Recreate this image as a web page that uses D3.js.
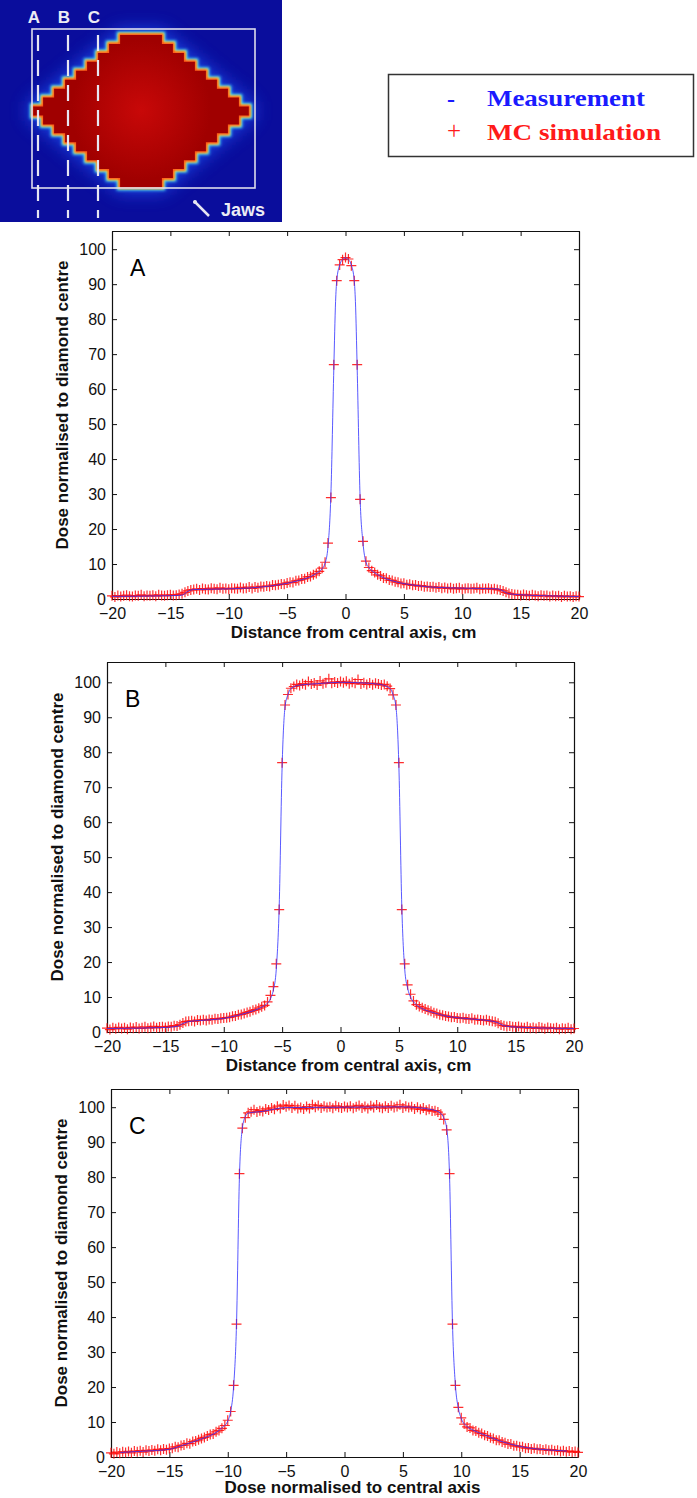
<!DOCTYPE html>
<html>
<head>
<meta charset="utf-8">
<script src="https://cdn.jsdelivr.net/npm/d3@7"></script>
<style>
  body { margin: 0; background: #fff; }
  svg { display: block; }
</style>
</head>
<body>
<script>
// ---- data ----
const xTicks = [-20, -15, -10, -5, 0, 5, 10, 15, 20]
const yTicks = [0, 10, 20, 30, 40, 50, 60, 70, 80, 90, 100]

// MC simulation scored every 2.5 mm from -20 to 20 cm
const mcX = d3.range(-20, 20.001, 0.25)

const mcA = [
  0.9, 0.6, 1.0, 0.7, 0.9, 1.1, 0.8, 0.7, 1.0, 0.9, 1.2, 0.8, 1.0, 0.9, 1.1, 0.8, 1.2, 1.0, 0.9, 1.1, 1.2,
  1.0, 1.1, 1.3, 1.5, 1.9, 2.3, 2.6, 2.7,
  2.9, 2.6, 3.0, 2.8, 2.7, 3.1, 2.9, 2.8, 3.2, 2.9, 3.0, 2.8, 3.1, 3.0, 2.9, 3.3, 3.0, 3.1, 3.4, 3.0,
  3.4, 3.2, 3.6, 3.5, 3.7, 3.6, 4.0, 3.9, 4.1, 4.3, 4.2, 4.6, 4.8, 4.7, 5.2, 5.3, 5.7, 5.8, 6.3, 6.4, 6.9, 7.3, 7.9,
  8.8, 10.5, 16, 29, 67, 91, 95.5, 97, 97.6, 97.2, 95.3, 91, 67, 28.5, 16.5, 10.8, 9.0,
  8.1, 7.6, 6.9, 6.6, 6.0, 5.9, 5.4, 5.3, 4.9, 4.8, 4.4, 4.5, 4.1, 4.2, 3.9, 4.0, 3.7, 3.8, 3.5, 3.6, 3.4, 3.5, 3.2, 3.4,
  3.1, 3.3, 3.0, 3.2, 2.9, 3.1, 3.2, 2.8, 3.0, 3.1, 2.9, 3.0, 3.2, 2.8, 3.0, 2.9, 3.1, 2.8, 2.9, 2.7,
  2.6, 2.3, 1.9, 1.6, 1.4, 1.3,
  1.2, 1.0, 1.3, 1.1, 0.9, 1.2, 1.0, 0.8, 1.1, 0.9, 1.0, 0.7, 1.0, 0.8, 0.9, 0.6, 0.9, 0.7, 0.8, 0.6, 0.8, 0.7
]
const mcB = [
  1.1, 0.7, 1.2, 0.9, 1.3, 1.0, 1.2, 0.8, 1.3, 1.1, 1.4, 1.0, 1.2, 1.5, 1.1, 1.3, 1.6, 1.2, 1.4, 1.5, 1.3,
  1.6, 1.5, 1.8, 1.7, 2.1, 2.6, 3.0, 3.1,
  3.2, 3.0, 3.4, 3.3, 3.5, 3.3, 3.6, 3.5, 3.8, 3.7, 3.9, 4.0, 4.1, 4.2, 4.5, 4.6, 4.9, 5.0, 5.3, 5.6,
  5.8, 6.2, 6.4, 6.8, 7.2, 7.6,
  8.6, 10.5, 13, 19.5, 35, 77, 93.5, 96.5, 98.3,
  98.8, 99.4, 99.1, 99.6, 99.3, 100.2, 99.5, 99.8, 99.2, 100.4, 99.6, 99.9, 101.0, 99.7, 100.1, 99.8, 100.2,
  99.9, 100.3, 99.6, 100.0, 99.7, 100.8, 99.5, 99.9, 99.4, 99.8, 99.3, 99.7, 99.5, 99.2, 99.4, 98.9,
  98.2, 96.4, 93.5, 77, 35, 19.5, 13.5, 10.8, 8.9,
  7.8, 7.3, 6.9, 6.6, 6.2, 5.9,
  5.5, 5.3, 4.9, 4.8, 4.6, 4.4, 4.2, 4.3, 4.0, 3.9, 4.1, 3.8, 3.7, 3.9, 3.5, 3.6, 3.4, 3.3, 3.5, 3.2,
  3.1, 2.9, 2.5, 2.0, 1.8, 1.6, 1.7, 1.5,
  1.4, 1.6, 1.3, 1.2, 1.5, 1.1, 1.3, 1.0, 1.4, 1.2, 0.9, 1.3, 1.1, 1.0, 1.2, 0.8, 1.1, 0.9, 1.2, 0.8, 1.0
]
const mcC = [
  1.2, 0.9, 1.4, 1.1, 1.5, 1.3, 1.6, 1.2, 1.7, 1.5, 1.8, 1.4, 1.9, 1.7, 2.0, 1.8, 2.2, 1.9, 2.3, 2.1, 2.4,
  2.5, 2.9, 2.8, 3.3, 3.4, 3.9, 3.8, 4.4, 4.6, 4.9, 5.3, 5.6, 6.0, 6.4, 6.6, 7.2, 7.6,
  8.2, 9.0, 10.5, 13, 20.5, 38, 81, 94, 97, 98.4,
  98.7, 99.3, 98.6, 99.0, 98.8, 99.5, 99.2, 99.8, 99.4, 100.3, 99.6, 100.6, 100.1, 100.5, 99.8, 100.4, 99.6,
  99.9, 99.5, 100.2, 99.6, 100.7, 100.0, 100.5, 99.8, 100.3, 99.9, 100.1, 99.7, 100.4, 100.0, 99.8, 100.2,
  99.9, 100.3, 99.7, 100.1, 100.5, 99.8, 100.2, 99.6, 100.4, 99.9, 100.6, 100.0, 99.7, 100.3, 99.8, 100.4,
  99.9, 100.2, 100.7, 99.8, 100.3, 99.9, 100.1, 99.5, 100.0, 99.4, 99.8, 99.1, 99.4, 98.9, 99.0, 98.6,
  98.0, 96.5, 93.5, 81, 38, 20.5, 14.2, 11.2, 9.4, 8.6,
  8.3, 7.6, 7.4, 6.9, 6.7, 6.2, 6.0, 5.5, 5.3, 4.8,
  4.8, 4.3, 4.1, 3.7, 3.7, 3.2, 3.2, 2.9, 2.9, 2.5, 2.6, 2.3,
  2.5, 2.2, 2.3, 2.0, 2.2, 1.9, 2.1, 1.8, 1.9, 1.6, 1.8, 1.5, 1.7, 1.4, 1.6, 1.3
]

// measured profiles (positions in cm, dose in %)
const measAx = [-20, -15, -14, -13.5, -13, -10, -8, -7, -6, -5, -4, -3, -2.5, -2, -1.75, -1.5, -1.25, -1, -0.85, -0.75,
  -0.5, -0.25, 0, 0.25, 0.5, 0.75, 0.85, 1, 1.25, 1.5, 1.75, 2, 2.5, 3, 4, 5, 6, 7, 8, 10, 13, 13.5, 14, 15, 17.5, 20]
const measAy = [0.75, 0.95, 1.1, 2.2, 2.7, 2.9, 3.2, 3.5, 3.9, 4.5, 5.3, 6.4, 7.3, 8.7, 10.2, 15, 30, 66, 85, 91,
  95.5, 97, 97.5, 97, 95.5, 91, 85, 66, 29, 16, 10.5, 9, 7.5, 6.5, 5.2, 4.4, 3.9, 3.5, 3.3, 3.1, 2.9, 2.3, 1.5, 1.2, 0.9, 0.7]

const measBx = [-20, -15, -14, -13.5, -13, -12, -10, -9, -8, -7, -6.5, -6, -5.75, -5.5, -5.25, -5, -4.75, -4.5, -4.25, -3.5,
  -2, 0, 2, 3.5, 4.25, 4.5, 4.75, 5, 5.25, 5.5, 5.75, 6, 6.5, 7, 8, 9, 10, 12, 13, 13.5, 14, 15, 20]
const measBy = [1.0, 1.3, 1.6, 2.4, 3.0, 3.3, 3.9, 4.6, 5.5, 6.7, 7.6, 9.5, 12, 18, 36, 76, 93, 96.5, 98.2, 99.2,
  99.6, 100, 99.8, 99.3, 98.2, 96.5, 93, 76, 36, 18, 12.5, 10, 7.8, 6.7, 5.5, 4.6, 4.1, 3.5, 3.1, 2.6, 1.8, 1.4, 1.0]

const measCx = [-19.2, -17, -15, -14, -13, -12, -11, -10.5, -10, -9.75, -9.5, -9.25, -9, -8.75, -8.5, -8.25, -7, -5, 0, 5,
  7.5, 8.25, 8.5, 8.75, 9, 9.25, 9.5, 9.75, 10, 10.5, 11, 12, 13.3, 14.8, 16.2, 17.6, 19.05]
const measCy = [1.3, 1.7, 2.2, 3.2, 4.3, 5.5, 7.0, 8.3, 10.3, 13, 20, 38, 80, 94, 97.3, 98.3, 98.8, 99.9, 100, 100.1,
  99.3, 98.2, 97, 94, 80, 38, 20.5, 14, 11, 8.7, 7.7, 6.3, 4.6, 3.2, 2.4, 2.0, 1.7]

// MLC leaf half-openings (cm) for the diamond field in the inset
const leafHalfWidth = [3.8, 5.8, 7.8, 9.8, 11.8, 13.8, 15.8, 17.8, 19.6, 17.8, 15.8, 13.8, 11.8, 9.8, 7.8, 5.8, 3.8]
const profileNames = ['A', 'B', 'C']

// ---- page ----
const width = 697
const height = 1498
const sans = 'Liberation Sans, Arial, sans-serif'
const serif = 'Liberation Serif, Times New Roman, serif'

const svg = d3.select('body')
  .append('svg')
  .attr('width', width)
  .attr('height', height)

const defs = svg.append('defs')
function blur(id, sd) {
  defs.append('filter').attr('id', id)
    .attr('x', '-30%').attr('y', '-30%').attr('width', '160%').attr('height', '160%')
    .append('feGaussianBlur').attr('stdDeviation', sd)
}
blur('b8', 9)
blur('b2', 1.4)
blur('b1', 0.9)
const rg = defs.append('radialGradient').attr('id', 'core')
  .attr('gradientUnits', 'userSpaceOnUse').attr('cx', 141).attr('cy', 110).attr('r', 70)
rg.append('stop').attr('offset', 0).attr('stop-color', '#c80808')
rg.append('stop').attr('offset', 1).attr('stop-color', '#a00000')

// ---- inset: dose map of the diamond field ----
const img = svg.append('g')
img.append('rect').attr('width', 282).attr('height', 222).attr('fill', '#0a0d9c')

const imgX = d3.scaleLinear().domain([-20, 20]).range([31, 251])
const rowY = d3.scaleBand().domain(d3.range(leafHalfWidth.length)).range([35, 187])
const right = leafHalfWidth.flatMap((hw, i) => [[imgX(hw), rowY(i)], [imgX(hw), rowY(i) + rowY.bandwidth()]])
const left = leafHalfWidth.map((hw, i) => [[imgX(-hw), rowY(i) + rowY.bandwidth()], [imgX(-hw), rowY(i)]]).reverse().flat()
const diamond = d3.line()(right.concat(left)) + 'Z'

img.append('path').attr('d', diamond).attr('fill', '#2458ff').attr('stroke', '#2458ff')
  .attr('stroke-width', 10).attr('opacity', 0.75).attr('filter', 'url(#b8)')
img.append('path').attr('d', diamond).attr('fill', 'none').attr('stroke', '#3cd8ff')
  .attr('stroke-width', 7).attr('filter', 'url(#b2)')
img.append('path').attr('d', diamond).attr('fill', 'none').attr('stroke', '#ffe030')
  .attr('stroke-width', 4.2).attr('filter', 'url(#b1)')
img.append('path').attr('d', diamond).attr('fill', 'none').attr('stroke', '#ff3a10')
  .attr('stroke-width', 2.4).attr('filter', 'url(#b1)')
img.append('path').attr('d', diamond).attr('fill', 'url(#core)')

// jaws
img.append('rect').attr('x', 32).attr('y', 29).attr('width', 223).attr('height', 159)
  .attr('fill', 'none').attr('stroke', '#dcdcec').attr('stroke-width', 1.6)

// profile lines
const profX = d3.scalePoint().domain(profileNames).range([38, 98])
img.selectAll('line.prof').data(profileNames).join('line')
  .attr('class', 'prof')
  .attr('x1', d => profX(d)).attr('x2', d => profX(d))
  .attr('y1', 35).attr('y2', 218)
  .attr('stroke', '#e6e6f2').attr('stroke-width', 2.2).attr('stroke-dasharray', '16,9')
img.selectAll('text.prof').data(profileNames).join('text')
  .attr('class', 'prof')
  .attr('x', d => profX(d) - 4).attr('y', 23)
  .attr('text-anchor', 'middle')
  .attr('font-family', sans).attr('font-weight', 'bold').attr('font-size', 17)
  .attr('fill', '#ececf4')
  .text(d => d)

img.append('line').attr('x1', 194).attr('y1', 201).attr('x2', 209).attr('y2', 216)
  .attr('stroke', '#e6e6f2').attr('stroke-width', 2.5)
img.append('circle').attr('cx', 195).attr('cy', 202).attr('r', 2).attr('fill', '#e6e6f2')
img.append('text').attr('x', 221).attr('y', 216)
  .attr('font-family', sans).attr('font-weight', 'bold').attr('font-size', 18)
  .attr('fill', '#ececf4').text('Jaws')

// ---- legend ----
const leg = svg.append('g')
leg.append('rect').attr('x', 388.5).attr('y', 74.5).attr('width', 305).attr('height', 82)
  .attr('fill', '#fff').attr('stroke', '#333').attr('stroke-width', 1.5)
leg.append('text').attr('x', 447).attr('y', 107).attr('font-family', serif).attr('font-size', 24)
  .attr('font-weight', 'bold').attr('fill', '#1a1aff').text('-')
leg.append('text').attr('x', 487).attr('y', 106).attr('font-family', serif).attr('font-size', 23)
  .attr('font-weight', 'bold').attr('textLength', 158).attr('lengthAdjust', 'spacingAndGlyphs')
  .attr('fill', '#1a1aff').text('Measurement')
leg.append('text').attr('x', 447).attr('y', 139).attr('font-family', serif).attr('font-size', 25)
  .attr('fill', '#ff1a1a').text('+')
leg.append('text').attr('x', 487).attr('y', 139.5).attr('font-family', serif).attr('font-size', 23)
  .attr('font-weight', 'bold').attr('textLength', 174).attr('lengthAdjust', 'spacingAndGlyphs')
  .attr('fill', '#ff1a1a').text('MC simulation')

// ---- profile panels ----
const panels = [
  {name: 'A', mc: mcA, mx: measAx, my: measAy, left: 112, right: 579, top: 231, bottom: 599, yMax: 105.2,
   xTitle: 'Distance from central axis, cm', titleDy: 39},
  {name: 'B', mc: mcB, mx: measBx, my: measBy, left: 107, right: 574, top: 662, bottom: 1032, yMax: 105.8,
   xTitle: 'Distance from central axis, cm', titleDy: 39},
  {name: 'C', mc: mcC, mx: measCx, my: measCy, left: 111, right: 578, top: 1089, bottom: 1457, yMax: 105.2,
   xTitle: 'Dose normalised to central axis', titleDy: 36}
]

const cross = 'M-5,0H5M0,-5V5'

panels.forEach(p => {
  if (p.mc.length !== mcX.length) throw new Error(p.name + ' mc length ' + p.mc.length)
  if (p.mx.length !== p.my.length) throw new Error(p.name + ' meas length')

  const x = d3.scaleLinear().domain([-20, 20]).range([p.left, p.right])
  const y = d3.scaleLinear().domain([0, p.yMax]).range([p.bottom, p.top])
  const g = svg.append('g')

  const styleAxis = a => a.attr('font-size', 16).attr('font-family', sans).attr('color', '#111')

  g.append('g').attr('transform', `translate(0,${p.bottom})`)
    .call(d3.axisBottom(x).tickValues(xTicks).tickSizeInner(-5).tickSizeOuter(0).tickPadding(9))
    .call(styleAxis)
  g.append('g').attr('transform', `translate(0,${p.top})`)
    .call(d3.axisTop(x).tickValues(xTicks).tickSizeInner(-5).tickSizeOuter(0).tickFormat(''))
    .call(styleAxis)
  g.append('g').attr('transform', `translate(${p.left},0)`)
    .call(d3.axisLeft(y).tickValues(yTicks).tickSizeInner(-5).tickSizeOuter(0).tickPadding(6))
    .call(styleAxis)
  g.append('g').attr('transform', `translate(${p.right},0)`)
    .call(d3.axisRight(y).tickValues(yTicks).tickSizeInner(-5).tickSizeOuter(0).tickFormat(''))
    .call(styleAxis)
  g.selectAll('.domain').attr('stroke-width', 1.2)

  // MC markers
  const pts = d3.zip(mcX, p.mc)
  g.append('g').selectAll('path').data(pts).join('path')
    .attr('d', cross)
    .attr('transform', d => `translate(${x(d[0])},${y(d[1])})`)
    .attr('fill', 'none').attr('stroke', '#ff0808').attr('stroke-width', 1.2).attr('opacity', 0.85)

  // measurement
  const line = d3.line().x(d => x(d[0])).y(d => y(d[1])).curve(d3.curveMonotoneX)
  g.append('path').datum(d3.zip(p.mx, p.my))
    .attr('d', line)
    .attr('fill', 'none').attr('stroke', '#3030ff').attr('stroke-width', 1).attr('opacity', 0.8)

  g.append('text').attr('x', p.left + 18).attr('y', p.top + 45)
    .attr('font-family', sans).attr('font-size', 23).attr('fill', '#000').text(p.name)

  g.append('text')
    .attr('transform', `translate(${p.left - 44},${(p.top + p.bottom) / 2 - 10}) rotate(-90)`)
    .attr('text-anchor', 'middle')
    .attr('font-family', sans).attr('font-weight', 'bold').attr('font-size', 17).attr('fill', '#111')
    .text('Dose normalised to diamond centre')

  g.append('text')
    .attr('x', (p.left + p.right) / 2 + 8).attr('y', p.bottom + p.titleDy)
    .attr('text-anchor', 'middle')
    .attr('font-family', sans).attr('font-weight', 'bold').attr('font-size', 17).attr('fill', '#111')
    .text(p.xTitle)
})
</script>
</body>
</html>
